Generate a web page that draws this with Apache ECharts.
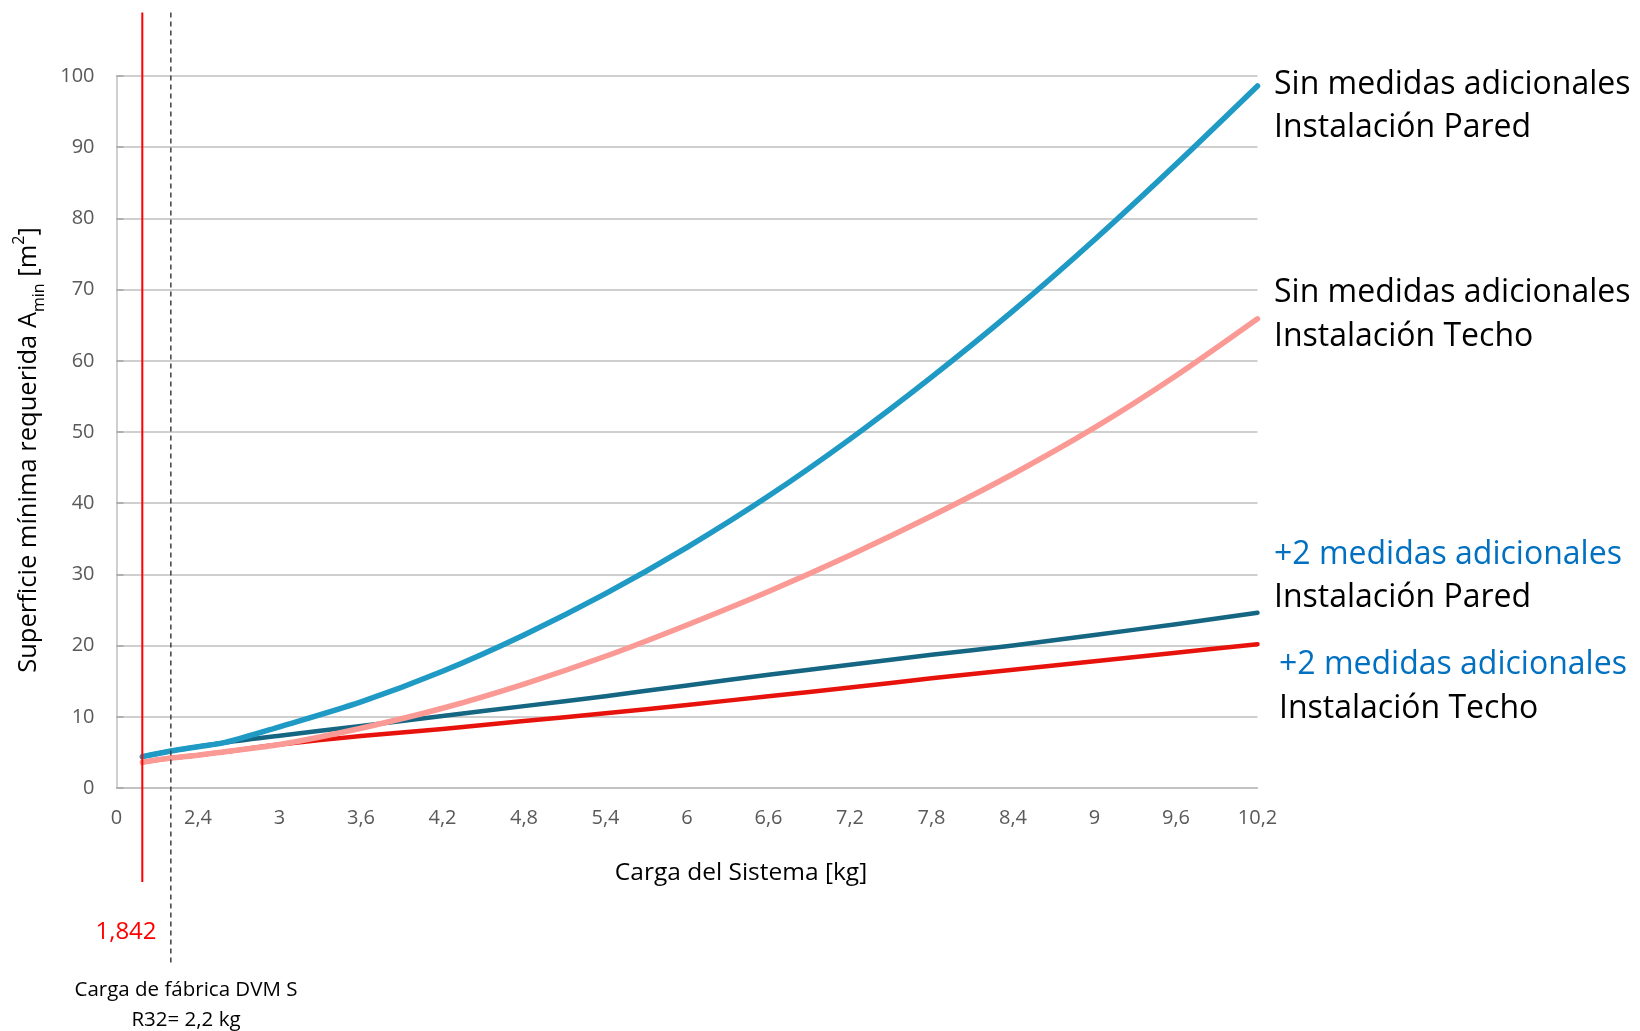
<!DOCTYPE html>
<html>
<head>
<meta charset="utf-8">
<script src="https://cdn.jsdelivr.net/npm/echarts@6/dist/echarts.min.js"></script>
<style>
  html, body { margin: 0; padding: 0; background: #ffffff; }
  #chart { width: 1640px; height: 1031px; }
</style>
</head>
<body>
<div id="chart"></div>
<script>
// ---------- data ----------
const xValues = [1.99, 2.2, 2.4, 2.6, 3.0, 3.6, 4.2, 4.8, 5.4, 6.0, 6.6, 7.2, 7.8, 8.4, 9.0, 9.6, 10.2];
const sinParedValues  = [4.4, 5.2, 5.8, 6.4, 8.6, 12.1, 16.4, 21.5, 27.3, 33.8, 41.0, 49.0, 57.7, 67.0, 77.0, 87.6, 98.6];
const sinTechoValues  = [3.6, 4.2, 4.6, 5.1, 6.1, 8.4, 11.2, 14.6, 18.5, 22.9, 27.6, 32.7, 38.2, 44.1, 50.6, 57.9, 65.9];
const masParedValues  = [4.4, 5.2, 5.8, 6.4, 7.35, 8.7, 10.1, 11.5, 12.9, 14.4, 15.9, 17.3, 18.7, 20.0, 21.5, 23.0, 24.6];
const masTechoValues  = [3.6, 4.2, 4.6, 5.1, 6.1, 7.3, 8.3, 9.4, 10.5, 11.65, 12.9, 14.1, 15.4, 16.6, 17.8, 19.0, 20.2];

const xMin = 1.8, xMax = 10.2, xInterval = 0.6;
const yMin = 0, yMax = 100, yInterval = 10;
const refLineX = 1.99;      // red reference line (label 1,842)
const dvmLineX = 2.2;       // factory charge DVM S
const refLabel = '1,842';
const dvmLabel = ['Carga de fábrica DVM S', 'R32= 2,2 kg'];
const xTitle = 'Carga del Sistema [kg]';
const seriesLabels = [
  { top: 'Sin medidas adicionales', bottom: 'Instalación Pared', topColor: '#000000' },
  { top: 'Sin medidas adicionales', bottom: 'Instalación Techo', topColor: '#000000' },
  { top: '+2 medidas adicionales', bottom: 'Instalación Pared', topColor: '#0070c0' },
  { top: '+2 medidas adicionales', bottom: 'Instalación Techo', topColor: '#0070c0' }
];

const FONT = '"Open Sans", "Noto Sans", sans-serif';
const pair = (vals) => xValues.map((x, i) => [x, vals[i]]);

const chart = echarts.init(document.getElementById('chart'), null, { renderer: 'canvas' });

const lineSeries = (name, vals, color, width, z) => ({
  name: name, type: 'line', data: pair(vals), smooth: 0.3, symbol: 'none',
  lineStyle: { color: color, width: width, cap: 'round', join: 'round' }, z: z
});

const option = {
  animation: false,
  backgroundColor: '#ffffff',
  grid: { left: 116.5, right: 382.5, top: 76, bottom: 243, containLabel: false },
  xAxis: {
    type: 'value', min: xMin, max: xMax, interval: xInterval,
    axisLine: { show: true, lineStyle: { color: '#bfbfbf', width: 1.5 } },
    axisTick: { show: false },
    splitLine: { show: false },
    axisLabel: {
      color: '#595959', fontSize: 20, fontFamily: FONT, margin: 20,
      formatter: (v) => {
        if (Math.abs(v - xMin) < 1e-6) return '0';
        const r = Math.round(v * 10) / 10;
        return String(r).replace('.', ',');
      }
    }
  },
  yAxis: {
    type: 'value', min: yMin, max: yMax, interval: yInterval,
    axisLine: { show: true, lineStyle: { color: '#bfbfbf', width: 1.5 } },
    axisTick: { show: true, inside: true, length: 7, lineStyle: { color: '#a6a6a6', width: 1.5 } },
    splitLine: { show: true, lineStyle: { color: '#bfbfbf', width: 1.5 } },
    axisLabel: { color: '#595959', fontSize: 20, fontFamily: FONT, margin: 22 }
  },
  series: [
    lineSeries('masTecho', masTechoValues, '#e8120c', 4.5, 2),
    lineSeries('masPared', masParedValues, '#156682', 4.5, 3),
    lineSeries('sinTecho', sinTechoValues, '#fb9a95', 5.5, 4),
    lineSeries('sinPared', sinParedValues, '#1f9ac5', 5.5, 5)
  ]
};
chart.setOption(option);

function buildGraphics() {
  const redX = chart.convertToPixel({ gridIndex: 0 }, [refLineX, 0])[0];
  const dvmX = chart.convertToPixel({ gridIndex: 0 }, [dvmLineX, 0])[0];
  const txt = (x, y, text, size, color, align) => ({
    type: 'text', x: x, y: y, silent: true, z: 100,
    style: { text: text, fill: color, fontSize: size, fontFamily: FONT, align: align || 'left', verticalAlign: 'middle' }
  });

  const labelX = 1274;
  const LS = 32;
  const elements = [
    { type: 'line', silent: true, z: 50, shape: { x1: redX, y1: 12.5, x2: redX, y2: 882 },
      style: { stroke: '#ff0000', lineWidth: 2 } },
    { type: 'line', silent: true, z: 50, shape: { x1: dvmX, y1: 12.5, x2: dvmX, y2: 965 },
      style: { stroke: '#404040', lineWidth: 1.5, lineDash: [5, 4] } },
    txt(126, 932, refLabel, 24, '#ff0000', 'center'),
    txt(186, 990, dvmLabel[0], 20.5, '#000000', 'center'),
    txt(186, 1020, dvmLabel[1], 20.5, '#000000', 'center'),
    txt(741, 873, xTitle, 24.5, '#000000', 'center'),
    txt(labelX, 85, seriesLabels[0].top, LS, seriesLabels[0].topColor),
    txt(labelX, 128, seriesLabels[0].bottom, LS, '#000000'),
    txt(labelX, 293, seriesLabels[1].top, LS, seriesLabels[1].topColor),
    txt(labelX, 337, seriesLabels[1].bottom, LS, '#000000'),
    txt(labelX, 555, seriesLabels[2].top, LS, seriesLabels[2].topColor),
    txt(labelX, 598, seriesLabels[2].bottom, LS, '#000000'),
    txt(labelX + 5, 665, seriesLabels[3].top, LS, seriesLabels[3].topColor),
    txt(labelX + 5, 709, seriesLabels[3].bottom, LS, '#000000'),
    {
      type: 'text', x: 29, y: 450, rotation: Math.PI / 2, silent: true, z: 100,
      style: {
        text: 'Superficie mínima requerida A{sub|min} [m{sup|2}]',
        fill: '#000000', fontSize: 25.5, fontFamily: FONT, lineHeight: 36,
        align: 'center', verticalAlign: 'middle',
        rich: {
          sub: { fontSize: 16, fontFamily: FONT, fill: '#000000', verticalAlign: 'bottom', lineHeight: 36 },
          sup: { fontSize: 16, fontFamily: FONT, fill: '#000000', verticalAlign: 'top', lineHeight: 36 }
        }
      }
    }
  ];
  chart.setOption({ graphic: { elements: elements } });
}
buildGraphics();
</script>
</body>
</html>
